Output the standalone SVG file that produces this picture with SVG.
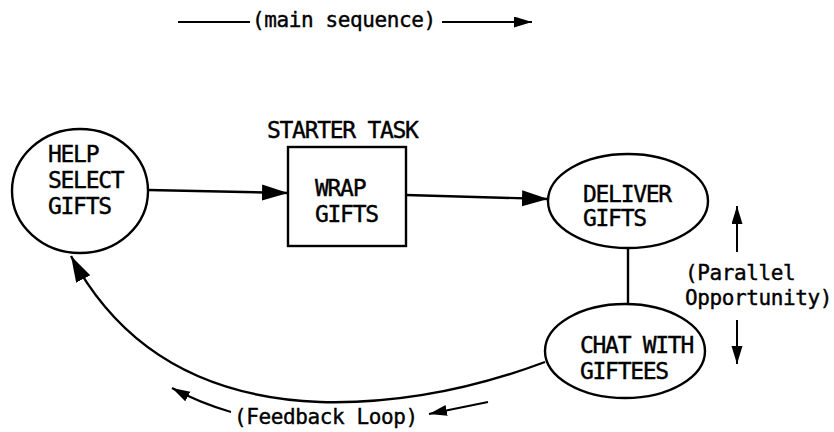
<svg xmlns="http://www.w3.org/2000/svg" width="834" height="432" viewBox="0 0 834 432">
  <style>
    .shape { fill: #fff; stroke: #000; stroke-width: 2.4; }
    .line { fill: none; stroke: #000; stroke-width: 2.4; }
    .thin { fill: none; stroke: #000; stroke-width: 2; }
    text { font-family: "DejaVu Sans Mono", "Liberation Mono", monospace; font-size: 23px; letter-spacing: -1.3px; fill: #000; stroke: #000; stroke-width: 0.4; }
    .note { font-size: 21px; letter-spacing: -0.4px; }
  </style>
  <defs>
    <marker id="arrowBig" markerUnits="userSpaceOnUse" markerWidth="28" markerHeight="18" refX="26" refY="8" orient="auto">
      <path d="M0,0 L26,8 L0,16 Z" fill="#000"/>
    </marker>
    <marker id="arrowSmall" markerUnits="userSpaceOnUse" markerWidth="20" markerHeight="12" refX="18" refY="5.5" orient="auto">
      <path d="M0,0 L18,5.5 L0,11 Z" fill="#000"/>
    </marker>
  </defs>

  <!-- heading: main sequence direction -->
  <g id="main-sequence-label">
    <line class="thin" x1="178" y1="22" x2="250" y2="22"/>
    <text class="note" x="252" y="27">(main sequence)</text>
    <line class="thin" x1="442" y1="22" x2="532" y2="22" marker-end="url(#arrowSmall)"/>
  </g>

  <!-- connectors -->
  <g id="connectors">
    <line class="line" x1="148" y1="190" x2="288" y2="193" marker-end="url(#arrowBig)"/>
    <line class="line" x1="406" y1="195" x2="548" y2="199" marker-end="url(#arrowBig)"/>
    <line class="line" x1="628" y1="248" x2="628" y2="305"/>
    <path class="line" d="M545,362 Q430,405 320,402 Q145,395 71,256" marker-end="url(#arrowBig)"/>
  </g>

  <g id="help-select-gifts">
    <ellipse class="shape" cx="80" cy="191" rx="68" ry="62"/>
    <text x="48" y="162">HELP</text>
    <text x="48" y="188">SELECT</text>
    <text x="48" y="214">GIFTS</text>
  </g>

  <g id="wrap-gifts">
    <text x="267" y="138">STARTER TASK</text>
    <rect class="shape" x="288" y="147" width="118" height="99"/>
    <text x="315" y="196">WRAP</text>
    <text x="315" y="222">GIFTS</text>
  </g>

  <g id="deliver-gifts">
    <ellipse class="shape" cx="628" cy="201" rx="80" ry="47"/>
    <text x="583" y="202">DELIVER</text>
    <text x="583" y="226">GIFTS</text>
  </g>

  <g id="chat-with-giftees">
    <ellipse class="shape" cx="625" cy="351" rx="80" ry="47"/>
    <text x="580" y="353">CHAT WITH</text>
    <text x="580" y="379">GIFTEES</text>
  </g>

  <!-- side note: parallel opportunity -->
  <g id="parallel-label">
    <line class="thin" x1="737" y1="252" x2="737" y2="206" marker-end="url(#arrowSmall)"/>
    <text class="note" x="685" y="280">(Parallel</text>
    <text class="note" x="685" y="305">Opportunity)</text>
    <line class="thin" x1="737" y1="320" x2="737" y2="364" marker-end="url(#arrowSmall)"/>
  </g>

  <!-- bottom note: feedback loop -->
  <g id="feedback-label">
    <path class="thin" d="M231,412 Q200,403 172,388" marker-end="url(#arrowSmall)"/>
    <text class="note" x="234" y="424">(Feedback Loop)</text>
    <line class="thin" x1="488" y1="402" x2="429" y2="414" marker-end="url(#arrowSmall)"/>
  </g>
</svg>
